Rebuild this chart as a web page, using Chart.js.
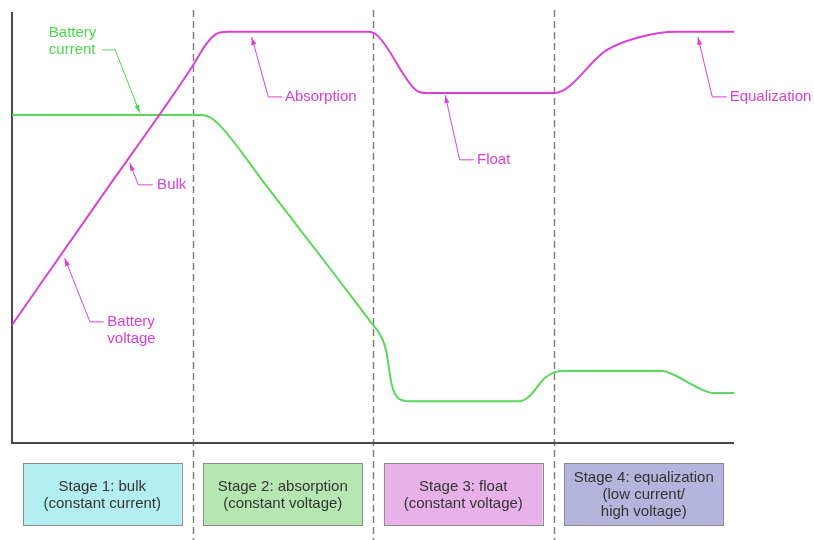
<!DOCTYPE html>
<html>
<head>
<meta charset="utf-8">
<script src="https://cdn.jsdelivr.net/npm/chart.js@4"></script>
<style>
  html, body { margin: 0; padding: 0; background: #fff; }
  #wrap { width: 814px; height: 540px; }
</style>
</head>
<body>
<div id="wrap"><canvas id="chart"></canvas></div>
<script>
// Dữ liệu: thời gian (0-100) và mức (0-100)
const voltageX = [0, 12.5, 25.1, 26.7, 28.1, 29.8, 49.3, 50.7, 55.4, 56.5, 57.9, 75.1, 82.4, 87.0, 92.1, 100];
const voltageY = [27.4, 57.4, 87.7, 92.1, 94.7, 95.4, 95.4, 94.4, 82.8, 81.4, 81.2, 81.2, 91.2, 94.2, 95.4, 95.4];

const currentX = [0, 26.0, 27.4, 29.1, 35, 40, 45, 50.0, 51.0, 51.8, 52.6, 53.5, 55.1, 70.4, 71.7, 73.8, 75.3, 76.6, 90.2, 91.4, 96.0, 97.1, 100];
const currentY = [76.1, 76.1, 75.6, 73.1, 60.2, 49.3, 38.4, 27.4, 25.1, 21.6, 13.5, 10.4, 9.7, 9.7, 10.9, 15.1, 16.5, 16.7, 16.7, 16.0, 12.1, 11.6, 11.6];

// Ranh giới các giai đoạn
const stageBounds = [25, 50, 75];
const stageLabels = [
    ['Stage 1: bulk', '(constant current)'],
    ['Stage 2: absorption', '(constant voltage)'],
    ['Stage 3: float', '(constant voltage)'],
    ['Stage 4: equalization', '(low current/', 'high voltage)']
];
const stageColors = ['#b2eef2', '#b6e6b2', '#e8b2e8', '#b4b4dc'];

// Chú thích: mũi tên (tip), điểm gấp (elbow), đầu đoạn ngang (end), chữ
const GREEN = '#5ad85a';
const MAGENTA = '#d840d8';
const notes = [
    { lines: ['Battery', 'current'], color: '#4cd84c', tip: [17.7, 76.6], elbow: [14.3, 91.2], end: [12.5, 91.2], text: [5.1, 91.2], lineOffset: -1 },
    { lines: ['Absorption'], color: MAGENTA, tip: [33.2, 94.2], elbow: [35.5, 80.3], end: [37.4, 80.3], text: [37.8, 80.3], lineOffset: 0 },
    { lines: ['Bulk'], color: MAGENTA, tip: [16.3, 65.0], elbow: [17.5, 59.9], end: [19.5, 59.9], text: [20.1, 59.9], lineOffset: 0 },
    { lines: ['Battery', 'voltage'], color: MAGENTA, tip: [7.3, 42.9], elbow: [10.8, 28.1], end: [12.7, 28.1], text: [13.2, 28.1], lineOffset: 0 },
    { lines: ['Float'], color: MAGENTA, tip: [60.0, 80.7], elbow: [62.0, 65.7], end: [64.0, 65.7], text: [64.4, 65.7], lineOffset: 0 },
    { lines: ['Equalization'], color: MAGENTA, tip: [95.0, 94.2], elbow: [97.0, 80.3], end: [99.0, 80.3], text: [99.4, 80.3], lineOffset: 0 }
];

function toPoints(xs, ys) {
    return xs.map((x, i) => ({ x: x, y: ys[i] }));
}

// Plugin vẽ trục, đường nét đứt, hộp giai đoạn, chú thích
const decorPlugin = {
    id: 'decor',
    beforeDatasetsDraw(chart) {
        const ctx = chart.ctx;
        const xs = chart.scales.x;
        const area = chart.chartArea;
        ctx.save();
        // đường nét đứt
        ctx.strokeStyle = '#7a7a7a';
        ctx.lineWidth = 1.4;
        ctx.setLineDash([7, 4]);
        stageBounds.forEach(b => {
            const px = Math.round(xs.getPixelForValue(b)) + 0.5;
            ctx.beginPath();
            ctx.moveTo(px, area.top - 2);
            ctx.lineTo(px, chart.height);
            ctx.stroke();
        });
        ctx.setLineDash([]);
        // trục
        ctx.strokeStyle = '#4a4a4a';
        ctx.lineWidth = 2;
        ctx.beginPath();
        ctx.moveTo(area.left, area.top);
        ctx.lineTo(area.left, area.bottom);
        ctx.lineTo(area.right, area.bottom);
        ctx.stroke();

        // hộp giai đoạn
        const edges = [0].concat(stageBounds).concat([100]);
        const boxTop = area.bottom + 20;
        const boxH = 62;
        ctx.font = '15px "Liberation Sans", Arial, sans-serif';
        ctx.textAlign = 'center';
        ctx.textBaseline = 'middle';
        stageLabels.forEach((lines, i) => {
            const x0 = xs.getPixelForValue(edges[i] + 1.5);
            const x1 = xs.getPixelForValue(edges[i + 1] - 1.5);
            ctx.fillStyle = stageColors[i];
            ctx.fillRect(x0, boxTop, x1 - x0, boxH);
            ctx.strokeStyle = '#8c8c8c';
            ctx.lineWidth = 1;
            ctx.strokeRect(Math.round(x0) + 0.5, boxTop + 0.5, Math.round(x1 - x0), boxH);
            ctx.fillStyle = '#333';
            const lh = 17;
            const cy = boxTop + boxH / 2 - (lines.length - 1) * lh / 2 + 1;
            lines.forEach((t, j) => ctx.fillText(t, (x0 + x1) / 2, cy + j * lh));
        });
        ctx.restore();
    },
    afterDatasetsDraw(chart) {
        const ctx = chart.ctx;
        const xs = chart.scales.x;
        const ys = chart.scales.y;
        const P = p => [xs.getPixelForValue(p[0]), ys.getPixelForValue(p[1])];
        ctx.save();
        ctx.font = '15px "Liberation Sans", Arial, sans-serif';
        ctx.textAlign = 'left';
        ctx.textBaseline = 'middle';
        notes.forEach(n => {
            const tip = P(n.tip), elbow = P(n.elbow), end = P(n.end), txt = P(n.text);
            ctx.strokeStyle = n.color;
            ctx.fillStyle = n.color;
            ctx.lineWidth = 1;
            ctx.beginPath();
            ctx.moveTo(end[0], end[1]);
            ctx.lineTo(elbow[0], elbow[1]);
            ctx.lineTo(tip[0], tip[1]);
            ctx.stroke();
            // mũi tên
            const ang = Math.atan2(tip[1] - elbow[1], tip[0] - elbow[0]);
            const len = 8, wid = 2.5;
            ctx.beginPath();
            ctx.moveTo(tip[0], tip[1]);
            ctx.lineTo(tip[0] - len * Math.cos(ang) + wid * Math.sin(ang), tip[1] - len * Math.sin(ang) - wid * Math.cos(ang));
            ctx.lineTo(tip[0] - len * Math.cos(ang) - wid * Math.sin(ang), tip[1] - len * Math.sin(ang) + wid * Math.cos(ang));
            ctx.closePath();
            ctx.fill();
            // chữ
            const lh = 17;
            n.lines.forEach((t, j) => {
                ctx.fillText(t, txt[0], txt[1] + (j + n.lineOffset) * lh);
            });
        });
        ctx.restore();
    }
};

const config = {
    type: 'line',
    data: {
        datasets: [
            {
                label: 'Battery voltage',
                data: toPoints(voltageX, voltageY),
                borderColor: MAGENTA,
                borderWidth: 2,
                pointRadius: 0,
                fill: false,
                cubicInterpolationMode: 'monotone'
            },
            {
                label: 'Battery current',
                data: toPoints(currentX, currentY),
                borderColor: GREEN,
                borderWidth: 2,
                pointRadius: 0,
                fill: false,
                cubicInterpolationMode: 'monotone'
            }
        ]
    },
    options: {
        responsive: true,
        maintainAspectRatio: false,
        animation: false,
        layout: { padding: { left: 12, right: 80, top: 12, bottom: 97 } },
        plugins: {
            legend: { display: false },
            tooltip: { enabled: false }
        },
        scales: {
            x: { type: 'linear', min: 0, max: 100, display: false },
            y: { type: 'linear', min: 0, max: 100, display: false }
        }
    },
    plugins: [decorPlugin]
};

const chart = new Chart(document.getElementById('chart'), config);
</script>
</body>
</html>
